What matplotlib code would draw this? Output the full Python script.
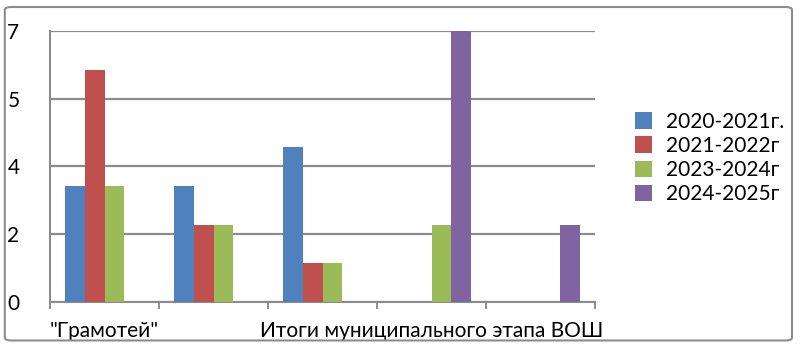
import numpy as np
import matplotlib
matplotlib.use("Agg")
import matplotlib.pyplot as plt
from matplotlib.patches import FancyBboxPatch, Patch

plt.rcParams['font.family'] = ['Lato', 'DejaVu Sans']

# data
categories = ['"Грамотей"', '', '', 'Итоги муниципального этапа ВОШ', '']
series = ['2020-2021г.', '2021-2022г', '2023-2024г', '2024-2025г']
values_2020 = [3, 3, 4, 0, 0]
values_2021 = [6, 2, 1, 0, 0]
values_2023 = [3, 2, 1, 2, 0]
values_2024 = [0, 0, 0, 7, 2]
colors = ['#4F81BD', '#C0504D', '#9BBB59', '#8064A2']

all_values = [values_2020, values_2021, values_2023, values_2024]

fig = plt.figure(figsize=(8.0, 3.51), dpi=100)
ax = fig.add_axes([0.0625, 0.1396, 0.6813, 0.7721])

x = np.arange(len(categories))
w = 0.18
for i, (vals, col) in enumerate(zip(all_values, colors)):
    ax.bar(x + (i - 1.5) * w, vals, width=w, color=col, zorder=3)

ax.set_xlim(-0.5, len(categories) - 0.5)
ax.set_ylim(0, 7)

yt = np.linspace(0, 7, 5)
ax.set_yticks(yt)
ax.set_yticklabels([f"{v:.0f}" for v in yt], fontsize=15)
ax.tick_params(axis='y', length=0, pad=22)

ax.set_xticks(x)
ax.set_xticklabels(categories, fontsize=15)
ax.tick_params(axis='x', which='major', length=0, pad=14)
ax.set_xticks(np.arange(-0.5, len(categories)), minor=True)
ax.tick_params(axis='x', which='minor', length=5, width=1.3, color='#868686', direction='out')

ax.yaxis.grid(True, color='#8c8c8c', linewidth=1.6, zorder=0)
for s in ['top', 'right']:
    ax.spines[s].set_visible(False)
for s in ['left', 'bottom']:
    ax.spines[s].set_color('#8c8c8c')
    ax.spines[s].set_linewidth(1.5)

handles = [Patch(facecolor=c, edgecolor='none') for c in colors]
fig.legend(handles, series, loc='center left', bbox_to_anchor=(0.77, 0.55),
           frameon=False, fontsize=15, handlelength=0.85, handleheight=0.85,
           labelspacing=0.2, handletextpad=0.65)

border = FancyBboxPatch((0.006, 0.03), 0.984, 0.95, transform=fig.transFigure,
                        boxstyle="round,pad=0,rounding_size=0.008",
                        facecolor='none', edgecolor='#8c8c8c', linewidth=1.5)
fig.patches.append(border)

fig.savefig("out.png", dpi=100)
